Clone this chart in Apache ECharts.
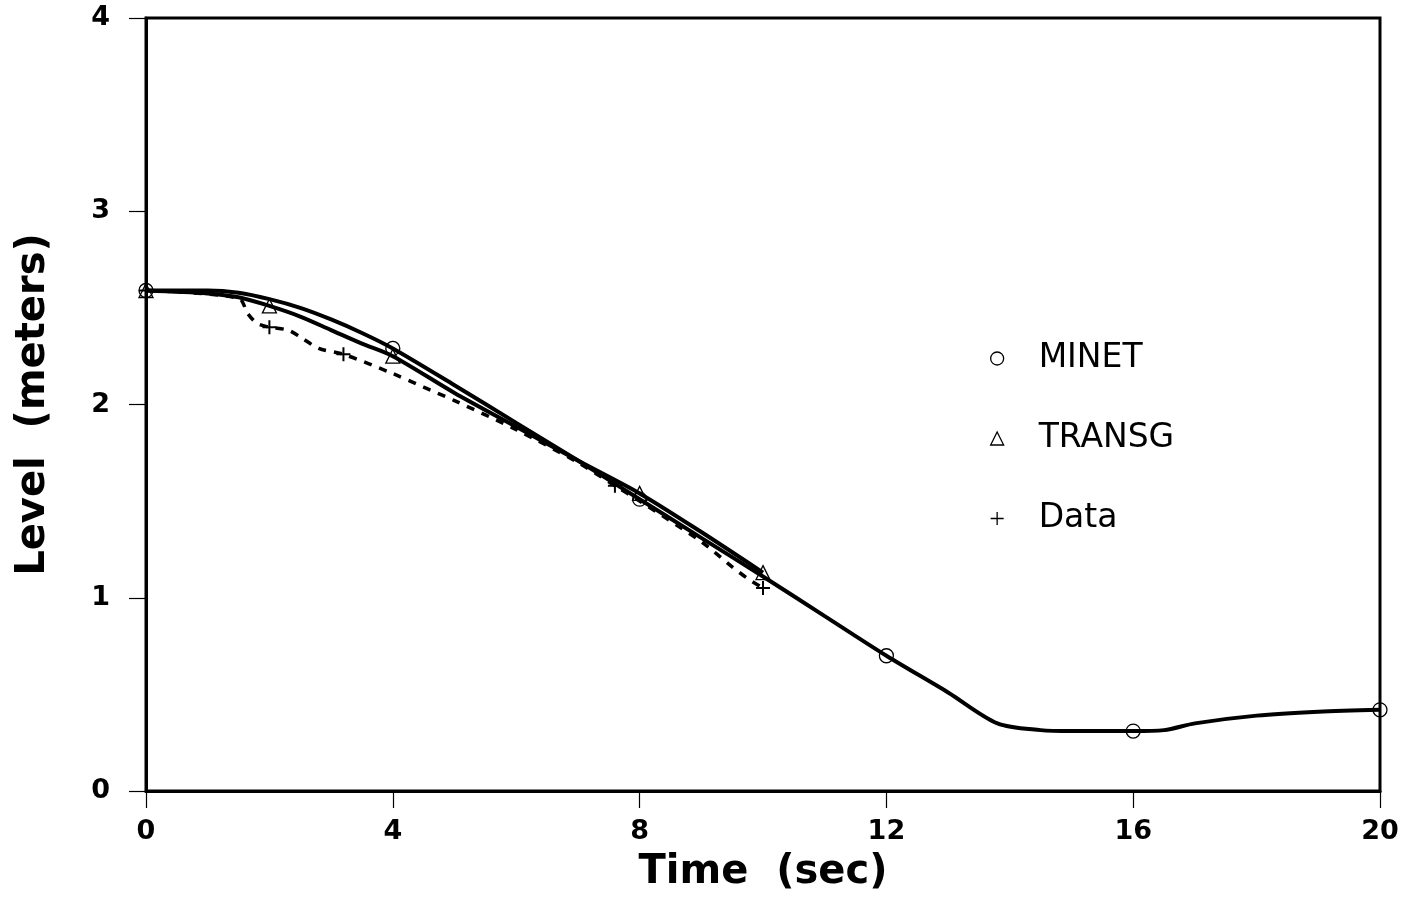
<!DOCTYPE html>
<html>
<head>
<meta charset="utf-8">
<title>Level vs Time</title>
<script src="https://cdn.jsdelivr.net/npm/echarts@6/dist/echarts.min.js"></script>
<style>
  html, body { margin: 0; padding: 0; background: #fff; }
  #chart { width: 1405px; height: 904px; }
</style>
</head>
<body>
<div id="chart"></div>
<script>
// Time axis ticks (sec) and level axis ticks (meters)
const timeTicks = [0, 4, 8, 12, 16, 20];
const levelTicks = [0, 1, 2, 3, 4];

// MINET calculation
const minetTime  = [0, 1, 1.5, 2, 2.5, 3, 3.5, 4, 5, 6, 7, 8, 9, 10, 11, 12, 13, 13.8, 14.5, 15, 16, 16.5, 17, 18, 19, 20];
const minetLevel = [2.59, 2.59, 2.578, 2.545, 2.5, 2.44, 2.37, 2.29, 2.10, 1.905, 1.71, 1.51, 1.31, 1.11, 0.905, 0.70, 0.51, 0.35, 0.315, 0.31, 0.31, 0.315, 0.35, 0.39, 0.41, 0.42];
const minetMarks = [0, 4, 8, 12, 16, 20];

// TRANSG calculation
const transgTime  = [0, 1, 1.5, 2, 2.5, 3, 3.5, 4, 5, 6, 7, 8, 9, 10];
const transgLevel = [2.59, 2.575, 2.555, 2.51, 2.455, 2.385, 2.315, 2.25, 2.06, 1.885, 1.71, 1.54, 1.34, 1.13];
const transgMarks = [0, 2, 4, 8, 10];

// Measured data
const dataTime  = [0, 1.5, 1.65, 1.8, 2, 2.3, 2.5, 2.8, 3.2, 4, 4.5, 5, 6, 7, 7.6, 8, 9, 9.5, 9.75, 10];
const dataLevel = [2.59, 2.55, 2.47, 2.42, 2.40, 2.385, 2.35, 2.29, 2.26, 2.16, 2.09, 2.02, 1.87, 1.70, 1.58, 1.50, 1.29, 1.16, 1.10, 1.05];
const dataMarks = [0, 2, 3.2, 7.6, 10];

const PLUS = 'path://M0,5L10,5M5,0L5,10';
const hollow = { color: 'rgba(0,0,0,0)', borderColor: '#000', borderWidth: 1.3 };

function points(times, levels, marks, symbol, size) {
  return times.map((t, i) => {
    const item = { value: [t, levels[i]] };
    if (marks.indexOf(t) >= 0) {
      item.symbol = symbol;
      item.symbolSize = size;
      item.itemStyle = symbol === PLUS
        ? { color: 'rgba(0,0,0,0)', borderColor: '#000', borderWidth: 2 }
        : hollow;
    } else {
      item.symbol = 'none';
    }
    return item;
  });
}

const fontFamily = '"DejaVu Sans", "Liberation Sans", sans-serif';

const chart = echarts.init(document.getElementById('chart'), null, { renderer: 'canvas' });

chart.setOption({
  animation: false,
  backgroundColor: '#fff',
  grid: {
    left: 146, right: 25, top: 18, bottom: 113,
    show: true, borderColor: '#000', borderWidth: 3, backgroundColor: 'transparent'
  },
  legend: {
    orient: 'vertical',
    left: 985, top: 337,
    itemWidth: 13, itemHeight: 13,
    itemGap: 47,
    textStyle: {
      fontFamily, fontSize: 33, color: '#000',
      padding: [0, 0, 0, 30]
    },
    data: [
      { name: 'MINET', icon: 'circle', itemStyle: hollow },
      { name: 'TRANSG', icon: 'triangle', itemStyle: hollow },
      { name: 'Data', icon: PLUS, itemStyle: { color: 'rgba(0,0,0,0)', borderColor: '#000', borderWidth: 1.3 } }
    ]
  },
  xAxis: {
    type: 'value',
    min: timeTicks[0], max: timeTicks[timeTicks.length - 1], interval: 4,
    name: 'Time  (sec)',
    nameLocation: 'middle',
    nameGap: 62,
    nameTextStyle: { fontFamily, fontSize: 40, fontWeight: 'bold', color: '#000' },
    axisLine: { show: true, lineStyle: { color: '#000', width: 3 } },
    axisTick: { show: true, inside: false, length: 17, lineStyle: { color: '#000', width: 1.2 } },
    axisLabel: { margin: 27, fontFamily, fontSize: 27, fontWeight: 'bold', color: '#000' },
    splitLine: { show: false }
  },
  yAxis: {
    type: 'value',
    min: levelTicks[0], max: levelTicks[levelTicks.length - 1], interval: 1,
    name: 'Level  (meters)',
    nameLocation: 'middle',
    nameGap: 92,
    nameRotate: 90,
    nameTextStyle: { fontFamily, fontSize: 40, fontWeight: 'bold', color: '#000' },
    axisLine: { show: true, lineStyle: { color: '#000', width: 3 } },
    axisTick: { show: true, inside: false, length: 17, lineStyle: { color: '#000', width: 1.2 } },
    axisLabel: { margin: 36, fontFamily, fontSize: 27, fontWeight: 'bold', color: '#000' },
    splitLine: { show: false }
  },
  series: [
    {
      name: 'Data', type: 'line',
      data: points(dataTime, dataLevel, dataMarks, PLUS, 14),
      smooth: 0.3,
      lineStyle: { color: '#000', width: 3.5, type: [8, 8] },
      itemStyle: { color: '#000' },
      z: 2
    },
    {
      name: 'TRANSG', type: 'line',
      data: points(transgTime, transgLevel, transgMarks, 'triangle', 14),
      smooth: 0.3,
      lineStyle: { color: '#000', width: 4 },
      itemStyle: { color: '#000' },
      z: 3
    },
    {
      name: 'MINET', type: 'line',
      data: points(minetTime, minetLevel, minetMarks, 'circle', 14),
      smooth: 0.3,
      lineStyle: { color: '#000', width: 4 },
      itemStyle: { color: '#000' },
      z: 4
    }
  ]
});
</script>
</body>
</html>
